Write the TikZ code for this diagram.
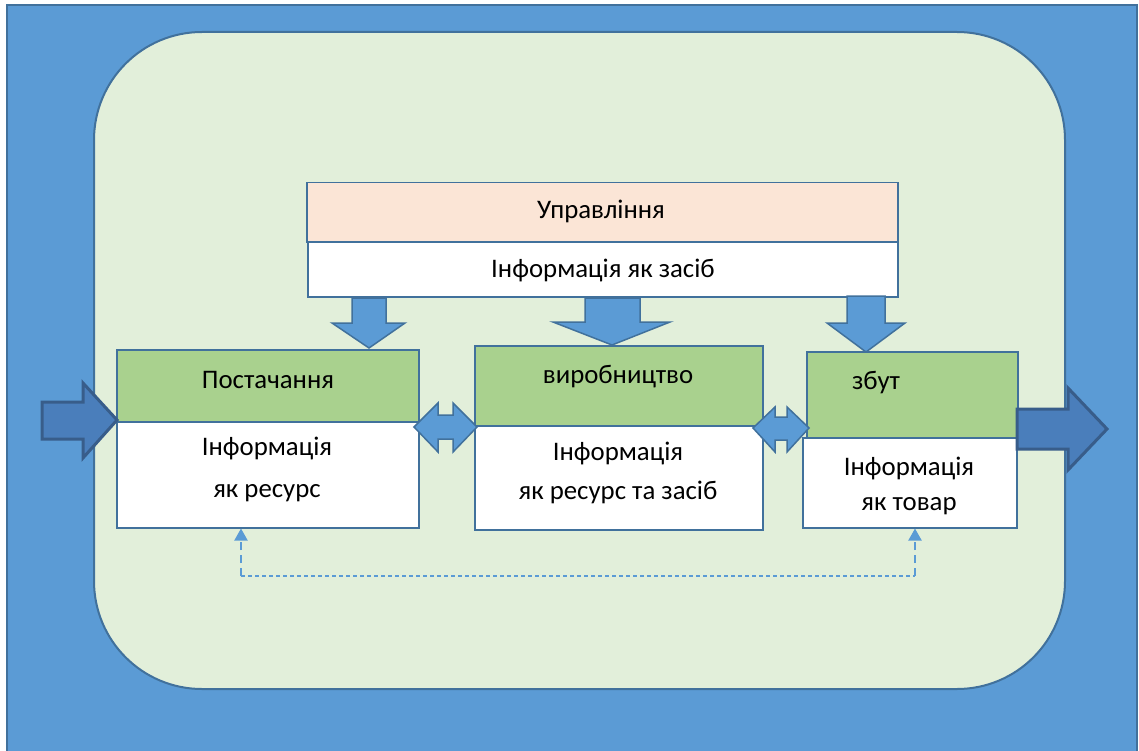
\documentclass[tikz,border=0pt]{standalone}
\usepackage{fontspec}
\setmainfont{Carlito}
\usetikzlibrary{arrows.meta}
\definecolor{bgblue}{HTML}{5B9BD5}
\definecolor{edgeblue}{HTML}{41719C}
\definecolor{darkarrow}{HTML}{4A7EBB}
\definecolor{darkedge}{HTML}{385D8A}
\definecolor{panel}{HTML}{E2EFDA}
\definecolor{greenbox}{HTML}{A9D18E}
\definecolor{peach}{HTML}{FBE5D6}
\tikzset{
  boxbase/.style={draw=edgeblue, line width=1.5pt, inner sep=0pt, anchor=north west},
  lbl/.style={font=\fontsize{26.8}{32}\selectfont, text=black, inner sep=0pt, align=center},
  blockarrow/.style={fill=bgblue, draw=edgeblue, line width=1.5pt, line join=miter},
  bigarrow/.style={fill=darkarrow, draw=darkedge, line width=3pt, line join=miter},
  dashline/.style={draw=bgblue, line width=1.6pt, dash pattern=on 4pt off 3pt},
  dashlinev/.style={draw=bgblue, line width=2pt, dash pattern=on 8pt off 5pt}
}
\begin{document}
\begin{tikzpicture}[x=1pt, y=-1pt]
\useasboundingbox (0,0) rectangle (1139,751);
% background
\fill[white] (0,0) rectangle (1139,751);
\draw[fill=bgblue, draw=edgeblue, line width=1.5pt] (7,5) rectangle (1137,760);
\draw[fill=panel, draw=edgeblue, line width=2pt, rounded corners=108pt] (94,32) rectangle (1065,689);

% top boxes
\node[boxbase, fill=peach, minimum width=591pt, minimum height=59pt] (upr) at (306,182) {};
\node[boxbase, fill=white, minimum width=590pt, minimum height=55pt] (uprinfo) at (307,241) {};
\node[lbl] (uprlbl) at (601,211) {Управління};
\node[lbl] (uprinfolbl) at (603,270) {Інформація як засіб};

% supply
\node[boxbase, fill=white, minimum width=302pt, minimum height=106pt] (supw) at (116,421) {};
\node[boxbase, fill=greenbox, minimum width=302pt, minimum height=72pt] (supg) at (116,349) {};
\node[lbl] (suplbl) at (268,380) {Постачання};
\node[lbl] (supinfo) at (267,469) {Інформація\\[10pt]як ресурс};

% production
\node[boxbase, fill=white, minimum width=288pt, minimum height=104pt] (prodw) at (474,425) {};
\node[boxbase, fill=greenbox, minimum width=288pt, minimum height=80pt] (prodg) at (474,345) {};
\node[lbl] (prodlbl) at (618,377) {виробництво};
\node[lbl] (prodinfo) at (618,473) {Інформація\\[7pt]як ресурс та засіб};

% sales
\node[boxbase, fill=white, minimum width=214pt, minimum height=90pt] (salw) at (802,437) {};
\node[boxbase, fill=greenbox, minimum width=211pt, minimum height=86pt] (salg) at (806,351) {};
\node[lbl] (sallbl) at (876,383) {збут};
\node[lbl] (salinfo) at (909,486) {Інформація\\[3pt]як товар};

% down block arrows
\draw[blockarrow] (352,298) -- (386,298) -- (386,323) -- (405,323) -- (369,348) -- (332,323) -- (352,323) -- cycle;
\draw[blockarrow] (585,298) -- (640,298) -- (640,322) -- (670,322) -- (612,345) -- (553,322) -- (585,322) -- cycle;
\draw[blockarrow] (847,296) -- (885,296) -- (885,323) -- (905,323) -- (866,352) -- (827,323) -- (847,323) -- cycle;

% double arrows
\draw[blockarrow] (414,427) -- (438,403) -- (438,415) -- (453,415) -- (453,403) -- (477,427) -- (453,452) -- (453,439) -- (438,439) -- (438,452) -- cycle;
\draw[blockarrow] (753,428) -- (775,407) -- (775,417) -- (787,417) -- (787,407) -- (809,428) -- (787,452) -- (787,440) -- (775,440) -- (775,452) -- cycle;

% big in/out arrows
\draw[bigarrow] (42,402) -- (83,402) -- (83,383) -- (117,420) -- (83,458) -- (83,439) -- (42,439) -- cycle;
\draw[bigarrow] (1017,409) -- (1068,409) -- (1068,388) -- (1107,429) -- (1068,470) -- (1068,449) -- (1017,449) -- cycle;

% dashed feedback
\coordinate (dl) at (241,576);
\coordinate (dr) at (915,576);
\draw[dashline] (dl) -- (dr);
\draw[dashlinev, -{Triangle[width=13pt,length=12pt]}] (dl) -- (dl |- supw.south);
\draw[dashlinev, -{Triangle[width=13pt,length=12pt]}] (dr) -- (dr |- salw.south);
\end{tikzpicture}
\end{document}
